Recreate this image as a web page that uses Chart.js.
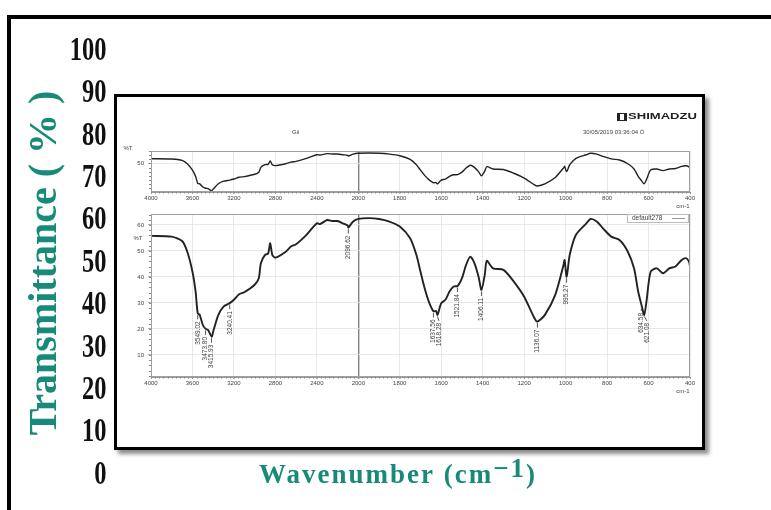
<!DOCTYPE html>
<html>
<head>
<meta charset="utf-8">
<script src="https://cdn.jsdelivr.net/npm/chart.js@4.4.0/dist/chart.umd.min.js"></script>
<style>
  body { margin: 0; background: #fff; }
  #page { position: relative; width: 771px; height: 510px; overflow: hidden; font-family: "Liberation Sans", Arial, sans-serif; }
  #page canvas, #page div { position: absolute; }
  .frame { left: 7px; top: 15px; width: 800px; height: 600px; border-left: 4px solid #000; border-top: 4px solid #000; }
  .box { left: 114px; top: 94px; width: 585px; height: 350px; border: 3px solid #000; background: #fff; box-shadow: 4px 4px 4px rgba(0,0,0,0.45); }
  .hdr { font-size: 6px; color: #444; white-space: nowrap; line-height: 6px; }
  .brand { left: 628px; top: 112px; font: bold 9px "Liberation Sans", Arial; color: #222; line-height: 8px; transform: scaleX(1.45); transform-origin: left; }
  .logo { left: 617px; top: 113px; width: 8px; height: 6px; border: 1px solid #222;
          background: linear-gradient(90deg, #222 0 30%, #fff 30% 45%, #222 45% 55%, #fff 55% 70%, #222 70%); }
</style>
</head>
<body>
<div id="page">
  <canvas id="outerChart" width="771" height="510"></canvas>
  <div class="frame"></div>
  <div class="box"></div>
  <div class="logo"></div>
  <div class="brand">SHIMADZU</div>
  <div class="hdr" style="left:292px; top:129px;">Gii</div>
  <div class="hdr" style="left:583px; top:129px;">30/05/2019 03:36:04 Ö</div>
  <canvas id="topChart" width="584" height="76" style="left:116px; top:138px;"></canvas>
  <canvas id="mainChart" width="584" height="200" style="left:116px; top:200px;"></canvas>
</div>
<script>
// spectrum (cm-1 / %T)
const waveNumbers = [4000, 3800, 3700, 3650, 3600, 3570, 3549, 3530, 3500, 3473, 3450, 3415, 3400, 3350, 3300, 3240,
  3200, 3150, 3100, 3000, 2960, 2940, 2900, 2870, 2850, 2830, 2800, 2700, 2650, 2600, 2500, 2400, 2370, 2300, 2250,
  2200, 2150, 2100, 2096, 2050, 2000, 1950, 1900, 1850, 1800, 1750, 1720, 1700, 1680, 1660, 1637, 1625, 1618, 1600,
  1580, 1560, 1540, 1521, 1500, 1480, 1460, 1440, 1420, 1406, 1390, 1380, 1350, 1300, 1250, 1200, 1150, 1136, 1100,
  1050, 1010, 1005, 995, 980, 950, 900, 880, 850, 820, 780, 740, 700, 670, 650, 634, 621, 610, 590, 560, 530, 500,
  470, 440, 420, 405, 400];
const transmittance = [55.8, 55.5, 53.8, 49.7, 42, 34.4, 26, 25.4, 21.5, 20, 19.6, 17, 19, 25.4, 28.6, 29.9,
  31.2, 33.3, 34.1, 37, 39.5, 45.3, 48.5, 49, 53, 48.5, 47.4, 49.7, 51.7, 52.6, 56.2, 60.6, 60.3, 61.9, 61.5,
  61.5, 60.6, 59.7, 59, 61.3, 62.3, 62.6, 62.3, 61.3, 59.4, 54.9, 48.5, 42, 35.6, 30.5, 26.7, 26.9, 25.4, 29.9,
  31.2, 34.4, 36.3, 36.5, 39.5, 44.6, 47.8, 45.3, 40.1, 35, 40.8, 46.2, 43.3, 42.7, 38.2, 32.4, 24.1, 22.8, 25.4,
  33.1, 44.6, 46.5, 40.1, 48.5, 56.2, 60.6, 62.3, 61.3, 58.7, 55.5, 54.2, 49.7, 43.3, 34.4, 29.2, 25.4, 30.5, 42, 43.3, 41.4, 43.3,
  44, 46.5, 47.2, 45.9, 44];

// picked peaks
const peakWaves = [3549.02, 3473.80, 3415.93, 3240.41, 2096.62, 1637.56, 1618.28, 1521.84, 1406.11, 1136.07, 995.27, 634.58, 621.08];
const peakValues = [26, 20, 17, 29.9, 59, 26.7, 25.4, 36.5, 35, 22.8, 40.1, 29.2, 25.4];

const xTicks = [4000, 3600, 3200, 2800, 2400, 2000, 1800, 1600, 1400, 1200, 1000, 800, 600, 400];
const mainYTicks = [10, 20, 30, 40, 50, 60];
const topYTicks = [50];
const outerYTicks = [0, 10, 20, 30, 40, 50, 60, 70, 80, 90, 100];

const teal = '#178b77';
const spectrum = waveNumbers.map((w, i) => ({ x: w, y: transmittance[i] }));

// x axis of the IR plot: above 2000 cm-1 the scale is compressed by 2
class SplitScale extends Chart.LinearScale {
  toU(v) { return v > 2000 ? 2000 + (v - 2000) / 2 : v; }
  getPixelForValue(v) {
    const a = this.toU(this.min), b = this.toU(this.max);
    return this.getPixelForDecimal((this.toU(v) - a) / (b - a));
  }
  getValueForPixel(p) {
    const a = this.toU(this.min), b = this.toU(this.max);
    const u = a + this.getDecimalForPixel(p) * (b - a);
    return u > 2000 ? 2000 + (u - 2000) * 2 : u;
  }
}
SplitScale.id = 'split';
SplitScale.defaults = Chart.LinearScale.defaults;

// outer axis with narrow (condensed) numbers
class CondensedScale extends Chart.LinearScale {
  drawLabels(area) {
    const ctx = this.ctx, x = this.right;
    ctx.save();
    ctx.translate(x, 0);
    ctx.scale(0.72, 1);
    ctx.translate(-x, 0);
    super.drawLabels(area);
    ctx.restore();
  }
}
CondensedScale.id = 'condensed';
CondensedScale.defaults = Chart.LinearScale.defaults;

Chart.register(SplitScale, CondensedScale);

const smallFont = { family: '"Liberation Sans", Arial', size: 6 };

// frame, minor ticks, %T, cm-1, peak labels, legend
const panelDecor = {
  id: 'panelDecor',
  afterDatasetsDraw(chart, args, o) {
    const { ctx, chartArea: a, scales: { x, y } } = chart;
    ctx.save();
    ctx.strokeStyle = '#a0a0a0';
    ctx.lineWidth = 1;
    ctx.strokeRect(a.left + 0.5, a.top + 0.5, a.width - 1, a.height - 1);

    ctx.beginPath();
    for (let v = Math.ceil(y.min / o.yStep) * o.yStep; v <= y.max; v += o.yStep) {
      const py = Math.round(y.getPixelForValue(v)) + 0.5;
      ctx.moveTo(a.left - 2, py); ctx.lineTo(a.left, py);
    }
    for (let w = 400; w <= 4000; w += (w < 2000 ? 20 : 40)) {
      const px = Math.round(x.getPixelForValue(w)) + 0.5;
      ctx.moveTo(px, a.bottom); ctx.lineTo(px, a.bottom + 1.5);
    }
    ctx.strokeStyle = '#888';
    ctx.stroke();

    ctx.fillStyle = '#444';
    ctx.font = '6px "Liberation Sans", Arial';
    ctx.textAlign = 'center';
    ctx.textBaseline = 'middle';
    ctx.fillText('%T', a.left + o.pctX, a.top + o.pctY);
    ctx.fillText('cm-1', a.right - 7, a.bottom + 14);

    if (o.peaks) {
      ctx.font = '6.5px "Liberation Sans", Arial';
      ctx.textAlign = 'right';
      let last = -100;
      peakWaves.forEach((w, i) => {
        const px = x.getPixelForValue(w), py = y.getPixelForValue(peakValues[i]);
        const lx = Math.max(px, last + 5.5);
        last = lx;
        ctx.strokeStyle = '#555';
        ctx.beginPath();
        ctx.moveTo(px, py + 1.5); ctx.lineTo(lx, py + 6);
        ctx.stroke();
        ctx.save();
        ctx.translate(lx, py + 8);
        ctx.rotate(-Math.PI / 2);
        ctx.fillText(w.toFixed(2), 0, 0);
        ctx.restore();
      });
    }

    if (o.legend) {
      const lw = 62, lh = 9, lx = a.right - lw - 1, ly = a.top;
      ctx.fillStyle = '#fff';
      ctx.fillRect(lx, ly, lw, lh);
      ctx.strokeStyle = '#bbb';
      ctx.strokeRect(lx + 0.5, ly + 0.5, lw - 1, lh - 1);
      ctx.fillStyle = '#444';
      ctx.textAlign = 'left';
      ctx.fillText(chart.data.datasets[0].label, lx + 5, ly + lh / 2);
      ctx.strokeStyle = '#999';
      ctx.beginPath();
      ctx.moveTo(lx + 45, ly + lh / 2); ctx.lineTo(lx + 58, ly + lh / 2);
      ctx.stroke();
    }
    ctx.restore();
  }
};

function makePanel(id, p) {
  return new Chart(document.getElementById(id), {
    type: 'line',
    data: {
      datasets: [{
        label: 'default278',
        data: spectrum,
        borderColor: '#222',
        borderWidth: p.lineWidth,
        pointRadius: 0,
        tension: 0.25,
        fill: false
      }]
    },
    options: {
      responsive: false,
      animation: false,
      events: [],
      layout: { padding: { top: p.padTop, right: 10, left: 0, bottom: 0 } },
      plugins: {
        legend: { display: false },
        tooltip: { enabled: false },
        panelDecor: p.decor
      },
      scales: {
        x: {
          type: 'split', min: 400, max: 4000, reverse: true,
          afterBuildTicks: s => { s.ticks = xTicks.map(v => ({ value: v })); },
          afterFit: s => { s.height = p.xHeight; },
          ticks: { autoSkip: false, maxRotation: 0, padding: 1, color: '#444', font: smallFont, callback: v => String(v) },
          grid: {
            color: c => (c.tick && c.tick.value === 2000) ? '#808080' : '#e2e2e2',
            lineWidth: c => (c.tick && c.tick.value === 2000) ? 1.4 : 0.8,
            tickLength: 2, tickColor: '#999'
          },
          border: { color: '#999' }
        },
        y: {
          min: p.yMin, max: p.yMax,
          afterBuildTicks: s => { s.ticks = p.yTicks.map(v => ({ value: v })); },
          afterFit: s => { s.width = 35; },
          ticks: { autoSkip: false, padding: 4, color: '#444', font: smallFont },
          grid: { color: '#e2e2e2', lineWidth: 0.8, tickLength: 3, tickColor: '#999' },
          border: { color: '#999' }
        }
      }
    },
    plugins: [panelDecor]
  });
}

const topChart = makePanel('topChart', {
  lineWidth: 1.4, padTop: 13, xHeight: 22, yMin: 15.5, yMax: 65.1, yTicks: topYTicks,
  decor: { yStep: 5, pctX: -23, pctY: -3, peaks: false, legend: false }
});

const mainChart = makePanel('mainChart', {
  lineWidth: 1.9, padTop: 14, xHeight: 23, yMin: 1.5, yMax: 64.2, yTicks: mainYTicks,
  decor: { yStep: 2, pctX: -13, pctY: 24, peaks: true, legend: true }
});

// x title with raised -1
const xTitle = {
  id: 'xTitle',
  afterDraw(chart) {
    const ctx = chart.ctx;
    ctx.save();
    ctx.fillStyle = teal;
    ctx.font = 'bold 27px "Liberation Serif"';
    ctx.letterSpacing = '2px';
    const parts = ['Wavenumber (cm', '\u22121', ')'];
    const lifts = [0, 6, 0];
    const widths = parts.map(t => ctx.measureText(t).width);
    let x = 398 - widths.reduce((s, w) => s + w, 0) / 2;
    const base = chart.chartArea.bottom + 8;
    parts.forEach((t, i) => {
      ctx.fillText(t, x, base - lifts[i]);
      x += widths[i];
    });
    ctx.restore();
  }
};

const outerChart = new Chart(document.getElementById('outerChart'), {
  type: 'line',
  data: { datasets: [] },
  options: {
    responsive: false,
    animation: false,
    events: [],
    layout: { padding: { top: 51, bottom: 35, left: 10, right: 20 } },
    plugins: { legend: { display: false }, tooltip: { enabled: false } },
    scales: {
      x: { type: 'linear', display: false, min: 0, max: 1 },
      y: {
        type: 'condensed', min: 0, max: 100,
        afterBuildTicks: s => { s.ticks = outerYTicks.map(v => ({ value: v })); },
        afterFit: s => { s.width = 98; },
        grid: { display: false, drawTicks: false },
        border: { display: false },
        ticks: { autoSkip: false, padding: 2, color: '#111', font: { family: '"Liberation Serif"', weight: 'bold', size: 34 } },
        title: {
          display: true, text: 'Transmittance ( % )', color: teal,
          font: { family: '"Liberation Serif"', weight: 'bold', size: 40 },
          padding: { top: 12, bottom: 0 }
        }
      }
    }
  },
  plugins: [xTitle]
});
</script>
</body>
</html>
